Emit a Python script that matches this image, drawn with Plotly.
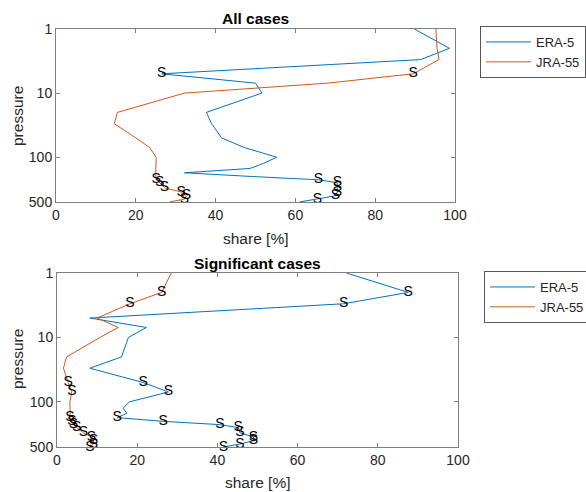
import numpy as np
import plotly.graph_objects as go

W, H = 586, 492

levels = [1, 2, 3, 5, 7, 10, 20, 30, 50, 70, 100, 125, 150, 175, 200, 225, 250, 300, 350, 400, 450, 500]

# All cases
all_era5 = [89.8, 98.6, 91.4, 26.5, 50.0, 51.6, 37.7, 39.0, 41.5, 47.0, 55.3, 52.0, 48.6, 32.2, 49.0, 65.8,
            70.5, 70.5, 70.5, 70.0, 65.5, 61.0]
all_jra55 = [95.2, 95.5, 96.0, 89.5, 68.0, 32.2, 15.4, 14.6, 20.0, 23.4, 25.1, 25.0, 25.0, 25.0, 25.0, 25.1,
             26.0, 27.2, 31.4, 32.7, 32.2, 28.5]
all_era5_sig = [5, 225, 250, 300, 350, 400, 450]
all_jra55_sig = [5, 225, 250, 300, 350, 400, 450]

# Significant cases
sig_era5 = [72.2, 87.6, 71.5, 8.2, 22.3, 17.8, 16.1, 8.2, 21.5, 27.8, 18.0, 16.5, 17.4, 15.0, 26.5, 40.6,
            45.2, 45.6, 49.0, 49.0, 45.6, 41.5]
sig_jra55 = [28.5, 26.1, 18.2, 10.0, 15.3, 10.7, 2.4, 1.6, 2.8, 3.7, 3.2, 3.3, 3.3, 3.2, 3.7, 4.1,
             4.9, 6.6, 8.6, 9.1, 9.1, 8.2]
sig_era5_sig = [2, 3, 50, 70, 175, 200, 225, 250, 300, 350, 400, 450, 500]
sig_jra55_sig = [2, 3, 50, 70, 175, 200, 225, 250, 300, 350, 400, 450, 500]

series_names = ["ERA-5", "JRA-55"]
colors = ["#0072BD", "#D95319"]
titles = ["All cases", "Significant cases"]
xtick_vals = [0, 20, 40, 60, 80, 100]
ytick_vals = [1, 10, 100, 500]
ytick_text = ["1", "10", "100", "500"]

panels = [
    ([all_era5, all_jra55], [all_era5_sig, all_jra55_sig]),
    ([sig_era5, sig_jra55], [sig_era5_sig, sig_jra55_sig]),
]

# pixel boxes of the two axes (left, top, right, bottom)
boxes = [(56, 29, 455, 202), (57, 273, 458, 447)]

fig = go.Figure()
font_family = "Liberation Sans, Arial, sans-serif"

for i, (vals, sigs) in enumerate(panels):
    xa = "x" if i == 0 else "x2"
    ya = "y" if i == 0 else "y2"
    leg = "legend" if i == 0 else "legend2"
    for name, v, s, c in zip(series_names, vals, sigs, colors):
        fig.add_trace(go.Scatter(x=v, y=levels, mode="lines", name=name,
                                 line=dict(color=c, width=1), xaxis=xa, yaxis=ya,
                                 legend=leg, hoverinfo="skip"))
    for name, v, s, c in zip(series_names, vals, sigs, colors):
        tx = [v[levels.index(p)] for p in s]
        fig.add_trace(go.Scatter(x=tx, y=s, mode="text", text=["S"] * len(s),
                                 textposition="middle center",
                                 textfont=dict(size=14, color="black", family=font_family),
                                 xaxis=xa, yaxis=ya, showlegend=False, cliponaxis=False,
                                 hoverinfo="skip"))

axis_common = dict(showline=True, linecolor="#7f7f7f", linewidth=1, mirror="ticks",
                   ticks="inside", ticklen=4, tickcolor="#7f7f7f", showgrid=False,
                   zeroline=False, automargin=False,
                   tickfont=dict(size=14, color="#262626", family=font_family))

layout = dict(width=W, height=H, margin=dict(l=0, r=0, t=0, b=0, autoexpand=False),
              plot_bgcolor="white", paper_bgcolor="white",
              font=dict(family=font_family, color="#262626"))

for i, (l, t, r, b) in enumerate(boxes):
    sx = "" if i == 0 else "2"
    layout["xaxis" + sx] = dict(axis_common, domain=[l / W, r / W], range=[0, 100],
                                tickvals=xtick_vals, anchor="y" + sx)
    layout["yaxis" + sx] = dict(axis_common, domain=[1 - b / H, 1 - t / H], type="log",
                                range=[np.log10(500), 0], tickvals=ytick_vals,
                                ticktext=ytick_text, anchor="x" + sx)

fig.update_layout(**layout)

legend_style = dict(font=dict(size=13, color="#262626", family=font_family),
                    bordercolor="#555555", borderwidth=1, bgcolor="white",
                    xanchor="left", yanchor="top", tracegroupgap=0, itemwidth=45)
fig.update_layout(legend=dict(legend_style, x=480 / W, y=1 - 26 / H),
                  legend2=dict(legend_style, x=484 / W, y=1 - 271 / H))

annots = [
    ("All cases", 255, 18, 0, True),
    ("Significant cases", 257, 263, 0, True),
    ("share [%]", 255, 238, 0, False),
    ("share [%]", 257, 482, 0, False),
    ("pressure", 17, 116, -90, False),
    ("pressure", 17, 359, -90, False),
]
for txt, px, py, rot, bold in annots:
    fig.add_annotation(text=("<b>%s</b>" % txt) if bold else txt, x=px / W, y=1 - py / H,
                       xref="paper", yref="paper", showarrow=False, textangle=rot,
                       xanchor="center", yanchor="middle",
                       font=dict(size=15.5, color="#262626" if not bold else "black",
                                 family=font_family))

fig.write_html("out.html", config={"displayModeBar": False},
               post_script="document.body.style.margin='0';document.body.style.padding='0';"
                           "document.body.style.overflow='hidden';")
